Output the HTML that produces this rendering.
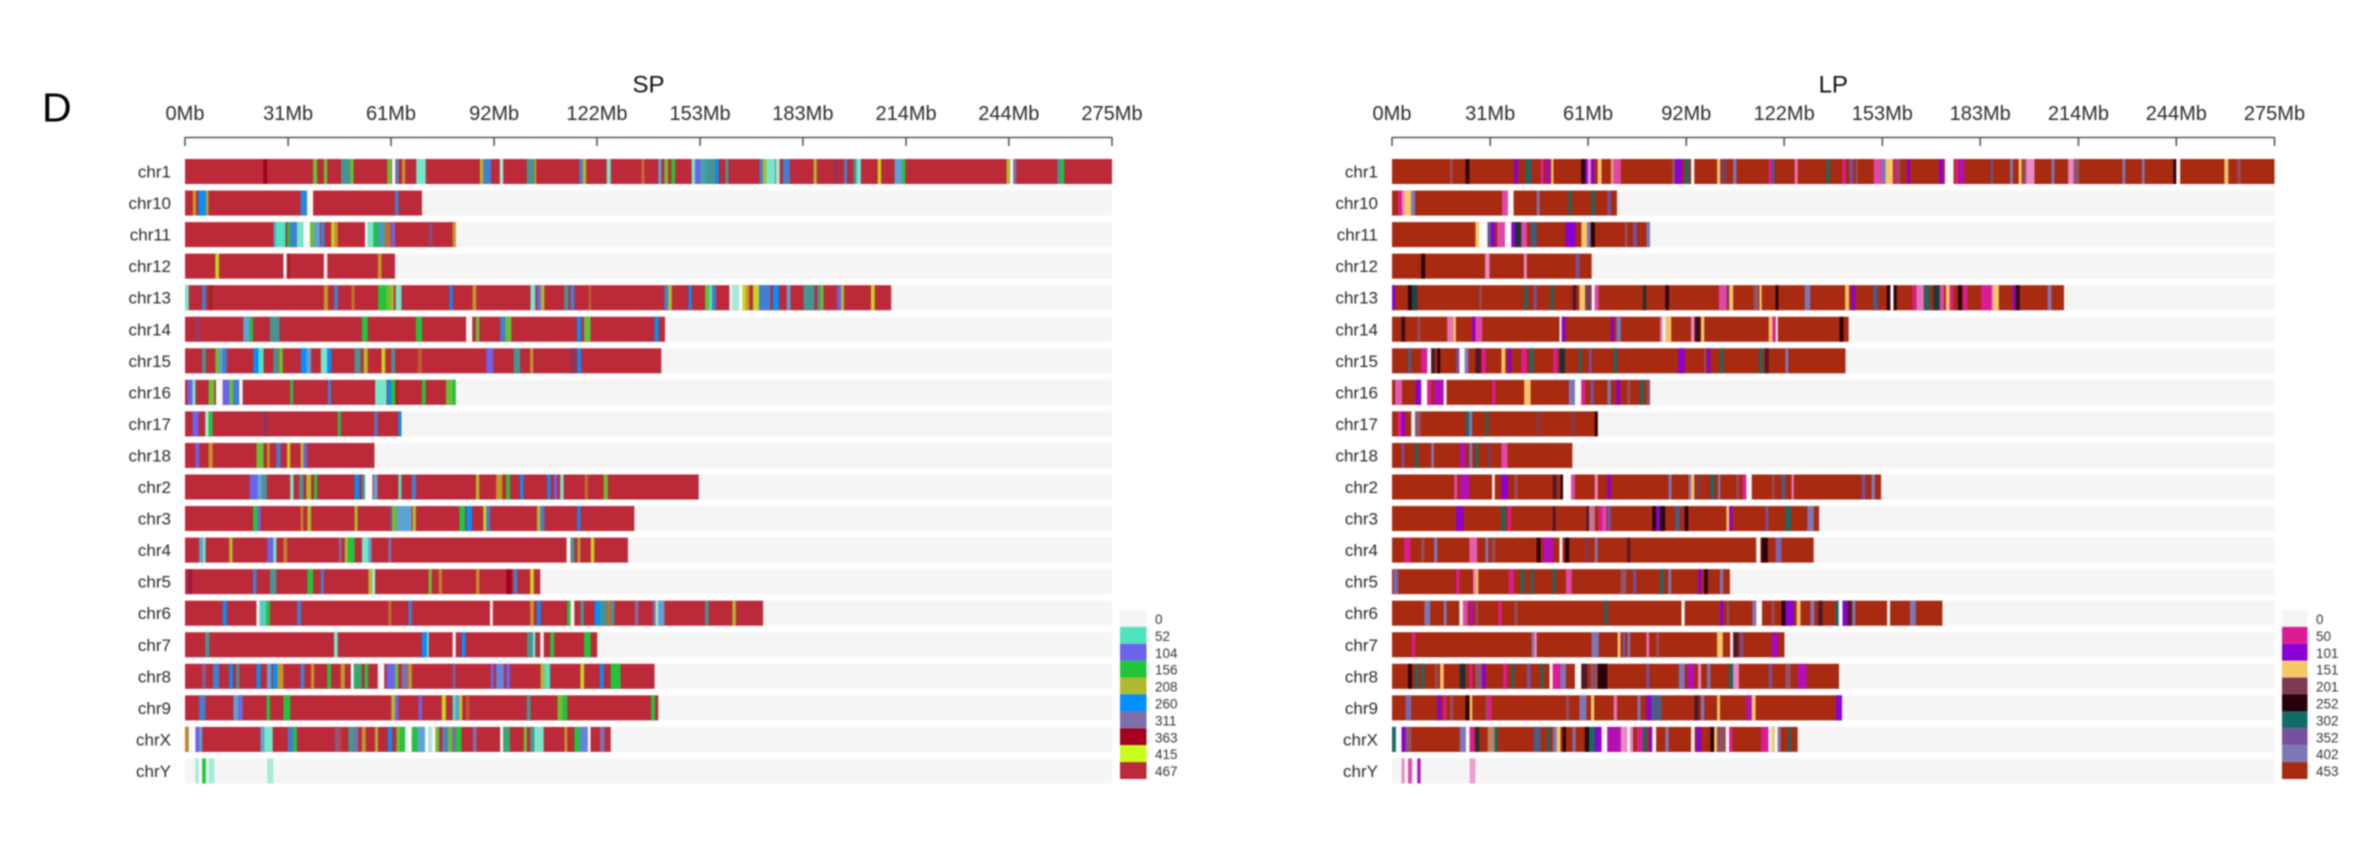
<!DOCTYPE html>
<html lang="en">
<head>
<meta charset="utf-8">
<title>SP and LP chromosome density heatmaps</title>
<style>
html,body{margin:0;padding:0;background:#fff;width:2380px;height:841px;overflow:hidden}
svg{display:block;filter:blur(0.7px);font-family:"Liberation Sans",Arial,sans-serif}
</style>
</head>
<body>
<svg id="chart" xmlns="http://www.w3.org/2000/svg" width="2380" height="841" viewBox="0 0 2380 841">
<text x="42" y="121.5" font-size="41" fill="#000">D</text>
</svg>
<script>
const chromosomes = ['chr1','chr10','chr11','chr12','chr13','chr14','chr15','chr16','chr17','chr18','chr2','chr3','chr4','chr5','chr6','chr7','chr8','chr9','chrX','chrY'];
const tickValues = [0,30.6,61.1,91.7,122.2,152.8,183.3,213.9,244.4,275];
const tickLabels = ['0Mb','31Mb','61Mb','92Mb','122Mb','153Mb','183Mb','214Mb','244Mb','275Mb'];

const spLegendValues = [0,52,104,156,208,260,311,363,415,467];
const lpLegendValues = [0,50,101,151,201,252,302,352,402,453];

const spLengths = [275,70.3,80.3,62.3,209.5,142.4,141.3,80.3,64.2,56.2,152.4,133.3,131.4,105.4,171.5,122.3,139.3,140.4,126.3,0];
const lpLengths = [275,70.1,80.1,62.2,209.4,142.3,141.3,80.1,64.1,56.2,152.4,133.1,131.4,105.3,171.5,122.3,139.3,140.2,126.4,0];

/* Each band: [start Mb, end Mb, window value]. Value 0 means an empty stretch. */
const spBands = [
[[23.2,24.4,363],[38,39.2,182],[41.2,42.2,182],[46.3,49,130],[49,50,182],[60,61.2,182],[61.4,62.4,0],[62.4,63.4,300],[64.4,65.3,440],[68.6,71.4,40],[87.5,88.5,208],[88.5,90.8,285],[93.4,94.4,26],[101.4,103.6,130],[103.6,104.2,440],[117,118,285],[118,119,208],[125.1,126.3,40],[135.4,136.3,450],[140.4,141.3,78],[142.2,143.3,182],[144.3,145.4,156],[150.3,151.3,40],[151.3,152.8,104],[152.8,154.7,240],[154.7,157.3,130],[157.3,158.3,260],[160.3,161.2,130],[170.4,171.4,285],[171.4,172.5,208],[172.5,175.1,40],[175.3,176.4,26],[177.4,179.4,285],[186.5,187.4,208],[192.6,193.5,340],[195.5,196.4,285],[198.3,199.2,130],[199.2,200.5,40],[205.5,206.5,425],[210.5,212.8,78],[212.8,213.7,156],[243.7,244.8,208],[244.8,245.7,0],[245.7,246.6,311],[258.8,259.8,130],[259.8,260.8,156]],
[[2.3,3.3,440],[4,6.2,260],[6.2,7,440],[34.3,36.2,275],[36.2,38,0],[62.3,63.3,285]],
[[26.3,27,78],[27,29.8,52],[30.3,31.2,156],[31.2,33.2,285],[33.2,35.1,40],[35.1,37.1,0],[37.1,38.3,182],[38.3,40,78],[40.3,41.4,285],[43.4,44.2,425],[44.2,45.3,440],[53.4,54.2,0],[54.2,55.9,40],[55.9,57,156],[57,59.3,240],[59.3,61,450],[61.2,62.3,104],[72.3,73.5,330],[79.4,80.3,440]],
[[9,10.1,425],[29.2,30.2,0],[30.2,31.2,370],[41.2,42.2,0],[57.2,58.3,440]],
[[0,1.1,40],[5.1,6.2,285],[7,8.2,370],[41.2,42.4,440],[44.2,45.3,285],[49.4,50.3,450],[57.3,59.6,156],[59.6,61,182],[61,61.9,208],[62.5,64.2,40],[78.5,79.4,260],[85.3,86.4,440],[102.5,103.9,40],[104.4,105.5,104],[105.5,106.6,208],[112.5,113.7,130],[114.4,115.5,285],[119.7,120.5,455],[142.2,143.3,285],[143.3,144.4,208],[149.4,150.3,260],[154.3,155.5,182],[155.5,156.4,52],[156.4,157.5,285],[161.5,162.3,0],[162.3,164.3,26],[164.3,165.4,0],[165.4,166.5,425],[166.5,167.4,440],[168.5,170.3,425],[170.3,173.6,285],[174.4,176.2,260],[178.5,179.6,78],[183.5,186.7,130],[187.6,188.5,130],[188.5,189.4,182],[193.5,194.6,104],[194.6,195.5,208],[203.5,204.6,425]],
[[3.1,4.2,335],[17.3,19.2,78],[19.2,20.1,156],[25.2,28,130],[52.5,54.2,156],[68.5,70.3,156],[83.4,85.2,0],[86.3,87.3,182],[93.5,95,285],[95,96.8,182],[116.3,117.5,260],[118.4,120.3,182],[139.3,140.5,260]],
[[5.1,6.2,130],[9,10.1,182],[10.1,11.2,78],[11.2,12.4,285],[20.3,21.8,260],[21.8,23.3,52],[26.2,27.6,130],[27.8,29,182],[34.4,36,260],[36,37.4,78],[40.3,42.2,40],[42.2,43.4,260],[50.3,52.1,130],[53,54.2,208],[58.3,59.4,425],[61.2,62.3,130],[69,70.3,455],[89.4,91.4,104],[97.5,99.4,130],[102.4,103.3,440],[114.4,116.1,340],[116.4,117.5,260]],
[[0.8,2.2,104],[2.2,3.1,40],[7,8.7,182],[9.2,11.2,0],[11.2,13.1,104],[13.1,14.2,182],[14.2,16.1,285],[16.1,17.1,0],[31.2,32.1,150],[42.4,43.3,285],[56.4,59.8,40],[60.1,61.2,260],[61.2,62.3,156],[62.6,63.3,370],[70.3,71.4,156],[77.4,79.4,182],[79.4,80.3,156]],
[[2.2,4,104],[6,7,26],[7,8.2,156],[23.1,24.2,340],[45.3,46.2,150],[56.2,57.1,285],[63.3,64.2,260]],
[[3.1,4.2,104],[7,8.2,440],[21.2,22.1,182],[22.1,23.3,182],[24.4,25.1,440],[27.1,28.3,285],[30.3,31.2,425],[34.3,35.2,208],[35.2,36.2,104]],
[[19.2,21.5,104],[21.5,22.9,78],[22.9,24.3,130],[31.2,32.2,40],[33.9,35.1,130],[36,37.4,208],[38.3,39.2,156],[50.3,51.7,260],[52.5,53.4,130],[53.4,55.6,0],[55.9,57.1,78],[63.3,64.2,52],[67.3,68.5,285],[86.3,87.3,208],[92.3,94.1,440],[95.3,96.4,156],[99.4,100.4,260],[107.5,108.4,260],[109.5,110.4,104],[111.3,112.3,40],[118.6,119.5,450],[124.2,125.4,182]],
[[20.2,21.5,156],[21.5,22.4,104],[34.3,35.1,445],[36.3,37.4,208],[50.3,51.2,208],[60.6,61.4,330],[61.4,62.8,182],[62.8,67.2,78],[67.5,68.5,208],[81.4,83.1,156],[83.5,85.1,260],[88.5,89.4,425],[89.4,90.5,285],[104.4,105.5,208],[105.5,106.6,285],[116.4,117.3,260]],
[[4.2,5.3,78],[5.3,6.1,40],[13.1,14.1,208],[24.4,26.2,104],[26.2,27.1,40],[29.2,30.3,445],[45.7,46.4,311],[47.4,48.3,208],[48.3,50.3,156],[52.5,54.4,40],[54.4,55.3,78],[60.3,61.2,311],[113.2,114.4,0],[114.4,115.5,130],[116.4,117.3,440],[120.4,121.4,425]],
[[0.8,2.2,350],[20.2,21.2,285],[25.2,27.1,130],[36.3,38,156],[40.3,41.2,285],[54.4,55.5,208],[55.5,56.4,26],[72.3,73.2,182],[75.3,76.2,445],[86.4,87.3,440],[95.3,96.9,363],[97.5,98.5,285],[102.4,103.5,425]],
[[11.2,12.4,260],[21.2,22.1,0],[22.1,24.1,60],[24.1,25.2,156],[33.3,34.4,285],[60.3,61.2,450],[66.3,67.3,285],[90.5,91.3,0],[102.4,103.5,440],[104.4,105.5,260],[113.4,114.4,156],[114.4,115.5,0],[117.3,118.3,130],[121.5,123.1,260],[123.1,125.1,130],[125.1,126.3,450],[126.3,127.4,130],[133.5,134.5,311],[138.8,139.6,311],[139.6,140.4,26],[140.4,142.2,78],[154.3,155.3,130],[162.4,163.4,208]],
[[6,7.2,130],[44.2,45.3,40],[70.3,71.8,260],[71.8,72.3,40],[79.4,80.3,0],[82.1,83.2,260],[101.5,103.2,130],[103.2,103.9,40],[105.4,106.4,0],[108.4,109.5,156],[118.4,120.3,156]],
[[5.1,6.2,320],[8.3,10.1,285],[13.1,14.2,260],[15.2,16.1,130],[21.2,22.4,260],[24.3,25.6,78],[26,27.4,260],[27.4,29.2,440],[34.3,35.4,285],[37.4,38.3,440],[42.2,43.3,156],[46.2,47.4,440],[49.2,50.1,0],[50.1,52.4,140],[53.3,54.3,156],[57.2,59.1,0],[59.8,62.3,104],[62.3,63.3,182],[64.2,66.2,311],[66.2,67.3,440],[79.4,80.3,320],[90.7,91.6,104],[92.3,94.6,90],[95.3,96.4,104],[105.5,106.6,208],[106.6,108.3,52],[117.3,118.4,425],[123.1,124.2,260],[126.3,129.2,156]],
[[4.2,6,285],[14.4,15.8,78],[15.8,17.1,100],[24.2,25.2,156],[29.2,31.2,156],[61.2,62.3,208],[62.3,63.3,104],[69.3,70.3,104],[76.2,77.4,425],[79.4,80.3,52],[80.3,81.4,78],[81.4,82.2,425],[83.4,84.3,455],[101.4,102.5,130],[110.5,112.1,182],[112.1,113.4,156],[138.3,139.4,156]],
[[0,1.1,445],[1.1,3.1,0],[3.1,4.2,104],[4.2,5.1,78],[22.4,23.5,78],[23.5,26,40],[30.5,32.1,285],[32.1,33.2,156],[44.5,45.5,320],[45.5,46.4,460],[48.5,50.3,130],[50.3,51.4,311],[52.5,53.6,440],[56.4,57.2,208],[60.2,61.4,260],[62.7,63.8,182],[63.8,65.3,156],[65.3,67.3,0],[67.3,68.9,156],[68.9,71.2,78],[71.2,72.3,0],[72.3,73.2,26],[73.2,74.3,0],[74.3,75.4,182],[76.3,78,120],[78,79.2,182],[79.2,80.3,311],[80.3,82,156],[85.4,86.5,311],[93.5,94.4,0],[94.4,96.4,140],[100.5,101.4,182],[102.4,103.6,130],[103.6,106.4,40],[112.6,113.4,440],[115.5,117.2,156],[117.2,119.5,90],[119.5,120.3,0],[123.1,124.5,311]],
[[3.1,4,26],[5.1,6.2,156],[7,8.7,26],[24.4,26.2,26]]
];

const lpBands = [
[[18.1,18.8,425],[22.9,24.1,252],[38.1,39.3,101],[41.7,43.3,302],[46.3,47.2,50],[47.9,49.1,85],[49.6,50.3,151],[59,60.2,252],[60.2,61,101],[61,62,25],[62,63,101],[64.1,65.3,151],[68.2,69.1,140],[69.1,71.3,40],[87.3,88.2,425],[88.2,90.4,101],[91.2,92.5,302],[93.2,94.2,0],[101.3,102.3,151],[102.3,104.3,200],[106.3,107.3,402],[117.3,118.3,50],[118.3,119.2,330],[125.5,126.4,30],[135.4,136.4,302],[140.3,141.3,50],[142.5,143.7,352],[144.5,145.2,430],[150.1,152.5,40],[152.5,153.8,402],[153.8,156.1,151],[156.5,157.3,50],[157.3,158.4,430],[160.5,161.4,101],[170.5,171.7,101],[172.3,175,0],[175.5,176.4,50],[176.7,178.4,75],[186.6,187.3,340],[192.6,193.5,402],[195.3,196.2,151],[196.5,197.6,430],[197.6,200.2,25],[205.5,206.4,402],[210.7,212.4,25],[212.4,214.1,425],[227.6,228.5,402],[233.7,234.5,402],[243.5,244.4,252],[244.4,245.6,0],[259.4,260.6,151],[263.4,264.5,430]],
[[1.9,3.1,50],[3.1,3.8,25],[3.8,6,151],[6,7.2,402],[34.3,36.1,40],[36.1,37.9,0],[45.1,46,402],[55.1,56,302],[62.1,63.2,302],[67.1,68.2,352]],
[[26,27.1,151],[27.1,29.8,0],[29.8,30.8,340],[30.8,32,101],[32.8,35.2,40],[35.2,37.2,0],[37.2,38.4,101],[38.4,40.3,275],[40.3,42,40],[43.2,45.1,320],[54.1,57.2,101],[59,60.8,151],[60.8,61.8,402],[62,63.2,252],[72.5,73.4,430],[75.1,76.3,352],[79.3,80.4,402]],
[[9.1,10.3,252],[29,30.4,25],[41.1,42,25],[57.2,58.4,352]],
[[0,1,101],[5,6.2,252],[6.2,7.9,285],[27.2,27.9,430],[41.2,42.2,302],[44.1,45.1,352],[49.4,50.3,302],[56.3,57.5,230],[58.4,60.2,151],[60.2,62.2,201],[62.2,63.2,0],[63.2,64.4,40],[78.2,79.2,275],[85.2,86.3,252],[101.9,104.3,40],[104.3,105.1,201],[105.1,106.3,151],[112.7,114.2,425],[114.5,115.2,151],[119.5,120.4,252],[128.6,130.3,402],[141.2,142.4,151],[143.2,144.4,101],[149.9,151.3,330],[154.2,155.3,252],[155.3,156.3,0],[156.3,157.3,250],[162.2,163.2,50],[163.4,165.7,30],[165.9,167.4,302],[168.6,170.7,280],[170.7,172,40],[172.6,173.8,151],[173.8,174.9,50],[176.4,177.6,252],[178,179.3,50],[183.6,186.8,50],[186.8,187.3,30],[187.3,189.1,151],[193.5,194.4,101],[194.4,195.6,252],[204.3,205.5,402]],
[[2.9,4.1,240],[7.9,8.8,430],[17.2,19.1,30],[19.1,19.9,151],[25,26,101],[26,28.1,40],[52.2,52.9,0],[52.9,54.1,101],[68.2,69.1,101],[69.9,71.3,402],[83.5,84.2,30],[84.2,85.2,0],[85.2,86.1,151],[86.1,87,151],[93.2,94.2,25],[94.4,96.1,240],[96.3,97.3,151],[117.4,118.6,150],[118.6,119.6,50],[119.6,120.2,0],[139.5,140.7,252]],
[[5,6,330],[9.1,11,50],[11,12.2,0],[12.2,13.4,230],[14.1,15,252],[20,21,352],[21,22.7,0],[22.7,23.8,402],[26,27.7,230],[28,29.2,50],[34.1,35.3,151],[36.1,37.2,101],[40.3,42,50],[42.9,44.1,302],[50.3,51.5,50],[52.2,53.9,275],[58.2,59.1,302],[61.4,62.2,352],[69.1,70.1,302],[89.2,91.2,101],[97.2,97.8,430],[98.2,99.2,101],[102.2,103.2,302],[114.4,115.4,302],[116.2,117.4,230],[122.6,123.5,402]],
[[1,3.1,35],[7.4,9.1,101],[9.1,11,0],[11,12.2,50],[13.1,16.1,75],[16.1,17,0],[31.2,32.2,50],[41.2,42.2,151],[42.2,43.2,151],[55.1,57,402],[57,59,0],[59,60.2,50],[61.8,62.9,352],[67.1,68.2,402],[69.9,71.1,101],[73.3,74.2,430],[77.3,78.4,302],[79.4,80.4,430]],
[[1.8,3,50],[3,4,101],[6,7.2,0],[7.2,8.9,425],[23,24,302],[24,25,402],[29.2,30,302],[45.1,46,201],[56,57,201],[63.2,64.1,252]],
[[3,3.8,352],[7.2,8.1,302],[12.2,13.1,402],[21.2,22.9,75],[24.1,25,402],[26,26.9,302],[29.8,31,201],[34.1,36,40]],
[[19.4,20.3,40],[21.2,24.1,75],[31.2,32,0],[34.1,36.1,101],[38.1,39.1,430],[50.1,51.3,230],[52.5,53.3,252],[53.3,55.8,0],[55.8,57,40],[63.2,64.1,25],[67.1,68.2,101],[86.2,87.1,402],[92.4,93.2,402],[93.2,94.2,151],[95.1,96.1,201],[99.2,100.4,302],[101.6,102.3,402],[107.3,108.1,430],[109.2,110.4,50],[110.4,112.1,0],[118.4,119.2,430],[121.4,122.6,330],[124.5,125.2,30],[146.4,147.5,352],[149.4,150.5,402]],
[[20,22.2,101],[34.1,35.3,302],[36.1,37.1,50],[50.1,51,230],[60.6,61.4,230],[61.4,63.2,130],[64.4,65.6,50],[65.6,66.8,40],[67.1,68.2,352],[81.1,82.3,252],[82.3,83.5,101],[83.5,85.1,252],[88.2,89.7,330],[91.2,92.3,252],[104.2,105.1,151],[105.1,106.1,101],[116.4,117.3,352],[122.6,124.2,302],[129.4,131.4,402]],
[[3.8,5.7,50],[9.1,10.1,430],[13.1,14.1,402],[24.1,26.5,35],[29.1,30,402],[31.2,32.2,430],[45.1,46.3,252],[47.1,50.3,75],[52.2,53.1,0],[53.9,55.2,252],[60.2,61.2,201],[63.2,64.1,402],[73.3,74.2,230],[113.5,114.8,0],[115.2,117.1,252],[119.5,121.4,380]],
[[0.4,1.9,380],[20,21,50],[25.3,26.2,25],[26.2,26.9,151],[36.4,37.9,50],[40.1,41.2,302],[43.2,44.1,302],[50.1,51,302],[54.2,56,40],[71.3,73,425],[75.1,76.1,352],[83.5,84.6,302],[86.1,87,402],[95.4,96.3,101],[97.3,98.4,252],[102.2,103.2,402]],
[[10.1,11.9,402],[16.1,17,402],[21,22.1,0],[22.1,23.6,40],[24.2,25.3,75],[26,26.9,430],[33.1,34.1,50],[38.1,39.1,430],[66.2,67.1,302],[90.2,91.2,0],[102.2,103.2,101],[104.3,105.1,430],[112.3,113.5,402],[113.5,115.3,0],[118.3,119.2,430],[121.4,122.6,252],[122.6,125.2,101],[126.1,127.3,151],[130.4,131.6,402],[132.9,134.2,230],[138.2,139.2,302],[139.2,140.4,0],[140.4,141.9,101],[141.9,143.2,230],[143.5,144.4,402],[154.3,155.2,0],[161.4,163.2,402]],
[[6.2,7.2,50],[43.5,44.3,402],[44.3,45.1,25],[62.2,64.4,402],[70.3,71.2,151],[71.8,72.7,352],[73.4,74.2,402],[79.3,80.1,30],[82.3,83.2,430],[101.3,103.1,151],[105.4,106.3,0],[106.3,107.9,230],[108.5,109.4,352],[118.3,120.2,85]],
[[5,6.2,252],[7.2,8.1,302],[9.1,10.1,302],[13.4,14.3,430],[15,16.1,151],[21.1,22.9,275],[24.2,25,50],[26,28,425],[28,29.2,101],[34.6,35.8,50],[37.2,38.1,302],[42,43.2,352],[46.3,47.2,302],[49.1,50.1,0],[50.1,52.5,50],[52.5,54.2,402],[57,59,0],[59,60.8,230],[61.8,64.1,430],[64.1,67.1,252],[79.3,80.2,352],[89.4,91.2,402],[92,94.2,75],[95.4,96.3,25],[98.2,99.2,402],[105.1,106.3,302],[106.3,108.1,25],[117.4,118.4,352],[122.6,124.2,425],[126.4,129.2,75]],
[[4.2,6,380],[14.1,15.3,101],[16.1,16.9,50],[18.1,19.1,430],[22.9,24.1,252],[24.2,25,151],[29.1,29.8,430],[29.8,31,50],[54.2,55.2,430],[58.4,60.6,402],[62,63,151],[69.1,70.1,30],[76.5,77.5,402],[79.3,80.8,100],[80.8,84,330],[94.2,95.6,230],[96.3,97.3,402],[101.3,102.2,151],[110.4,112.1,75],[112.1,113.3,151],[138.3,140.2,101]],
[[0,1.2,302],[1.2,3,0],[3,4.2,101],[4.2,6,425],[21.1,23,402],[23,24.2,0],[24.2,25.6,50],[26,27.2,275],[29.8,32,175],[32,32.9,302],[44.1,46.3,330],[48.3,49.2,302],[50.1,51.3,402],[51.3,52.5,151],[53.2,54.2,252],[56.3,57.2,402],[60.1,61.4,252],[61.4,63.2,302],[63.2,65.3,101],[65.3,67.1,0],[67.1,71.3,75],[71.3,73.3,25],[73.3,74.2,0],[74.2,75.1,25],[76.3,78.1,50],[78.1,79.3,302],[80.1,81.1,101],[81.1,82.3,0],[85.2,86.2,402],[93.2,94.3,0],[94.8,96.3,101],[99.2,100.4,252],[100.4,101.3,151],[101.3,104,430],[104,105.1,0],[105.1,106.1,50],[115,117.3,50],[117.3,118.3,0],[118.3,119.2,151],[119.2,120.2,0],[120.2,121.1,402],[123.4,124.3,302]],
[[3,3.9,25],[5,6.2,40],[7.9,8.9,75],[24.2,26,20]]
];

const spColors = ['#f5f5f5','#4fe3bf','#6b63ea','#1fc63a','#aebb2e','#0090ff','#7f6fa8','#a30022','#c6ff1a','#bc2a3a'];
const lpColors = ['#f5f5f5','#dc1c96','#8a00d6','#f5c86a','#7d3a55','#26000c','#136b66','#7650a0','#7c78b8','#a82a10'];

const NS = 'http://www.w3.org/2000/svg';
const svg = document.getElementById('chart');
const ROW_TOP = 159, ROW_PITCH = 31.55, ROW_H = 25;

function node(tag, attrs, parent, txt) {
  const el = document.createElementNS(NS, tag);
  for (const k in attrs) el.setAttribute(k, attrs[k]);
  if (txt !== undefined) el.textContent = txt;
  parent.appendChild(el);
  return el;
}
function hex(c) { return [1,3,5].map(i => parseInt(c.substr(i,2),16)); }
function colorScale(values, colors) {
  return function (v) {
    let i = 0;
    while (i < values.length - 2 && v > values[i + 1]) i++;
    const t = Math.max(0, Math.min(1, (v - values[i]) / (values[i + 1] - values[i])));
    const a = hex(colors[i]), b = hex(colors[i + 1]);
    return 'rgb(' + a.map((x, k) => Math.round(x + (b[k] - x) * t)).join(',') + ')';
  };
}
function rowY(i) { return ROW_TOP + i * ROW_PITCH; }

function drawPanel(name, title, x0, x1, labelX, legendX, legendTextX, lengths, bands, legendValues, colors) {
  const xMax = tickValues[tickValues.length - 1];
  const xScale = mb => x0 + (mb / xMax) * (x1 - x0);
  const color = colorScale(legendValues, colors);
  const baseValue = legendValues[legendValues.length - 1];
  const g = node('g', {}, svg);
  
  

  const t = node('text', {x: (x0 + x1) / 2, y: 92.5, 'font-size': 24, 'text-anchor': 'middle', fill: '#111'}, g, title);
  
  

  const axisLine = node('line', {x1: x0, x2: x1, y1: 137.5, y2: 137.5, stroke: '#555', 'stroke-width': 1.6}, g);
  
  
  tickValues.forEach(function (v, i) {
    const tick = node('line', {x1: xScale(v), x2: xScale(v), y1: 137, y2: 146, stroke: '#555', 'stroke-width': 1.6}, g);
    
    
    const lab = node('text', {x: xScale(v), y: 120, 'font-size': 20, 'text-anchor': 'middle', fill: '#2a2a2a'}, g, tickLabels[i]);
    
    
  });

  chromosomes.forEach(function (chr, i) {
    const y = rowY(i);
    const lab = node('text', {x: labelX, y: y + 18.5, 'font-size': 17, 'text-anchor': 'end', fill: '#2a2a2a'}, g, chr);
    
    
    const track = node('rect', {x: x0, y: y, width: x1 - x0, height: ROW_H, fill: colors[0]}, g);
    
    
    if (lengths[i] > 0) {
      const base = node('rect', {x: x0, y: y, width: xScale(lengths[i]) - x0, height: ROW_H, fill: color(baseValue)}, g);
      
      
    }
    bands[i].forEach(function (b) {
      const r = node('rect', {x: xScale(b[0]), y: y, width: xScale(b[1]) - xScale(b[0]), height: ROW_H, fill: b[2] === 0 ? '#f9f9f9' : color(b[2])}, g);
      
      
    });
  });

  legendValues.forEach(function (v, i) {
    const y = 610 + i * 16.9;
    const sw = node('rect', {x: legendX, y: y, width: legendTextX - legendX - 8.5, height: 16.9, fill: colors[i]}, g);
    
    
    const lab = node('text', {x: legendTextX, y: y + 14, 'font-size': 13.5, fill: '#333'}, g, String(v));
    
    
  });
}

drawPanel('sp', 'SP', 185, 1112, 171, 1120, 1155, spLengths, spBands, spLegendValues, spColors);
drawPanel('lp', 'LP', 1392, 2274.5, 1378, 2282, 2316, lpLengths, lpBands, lpLegendValues, lpColors);
</script>
</body>
</html>
